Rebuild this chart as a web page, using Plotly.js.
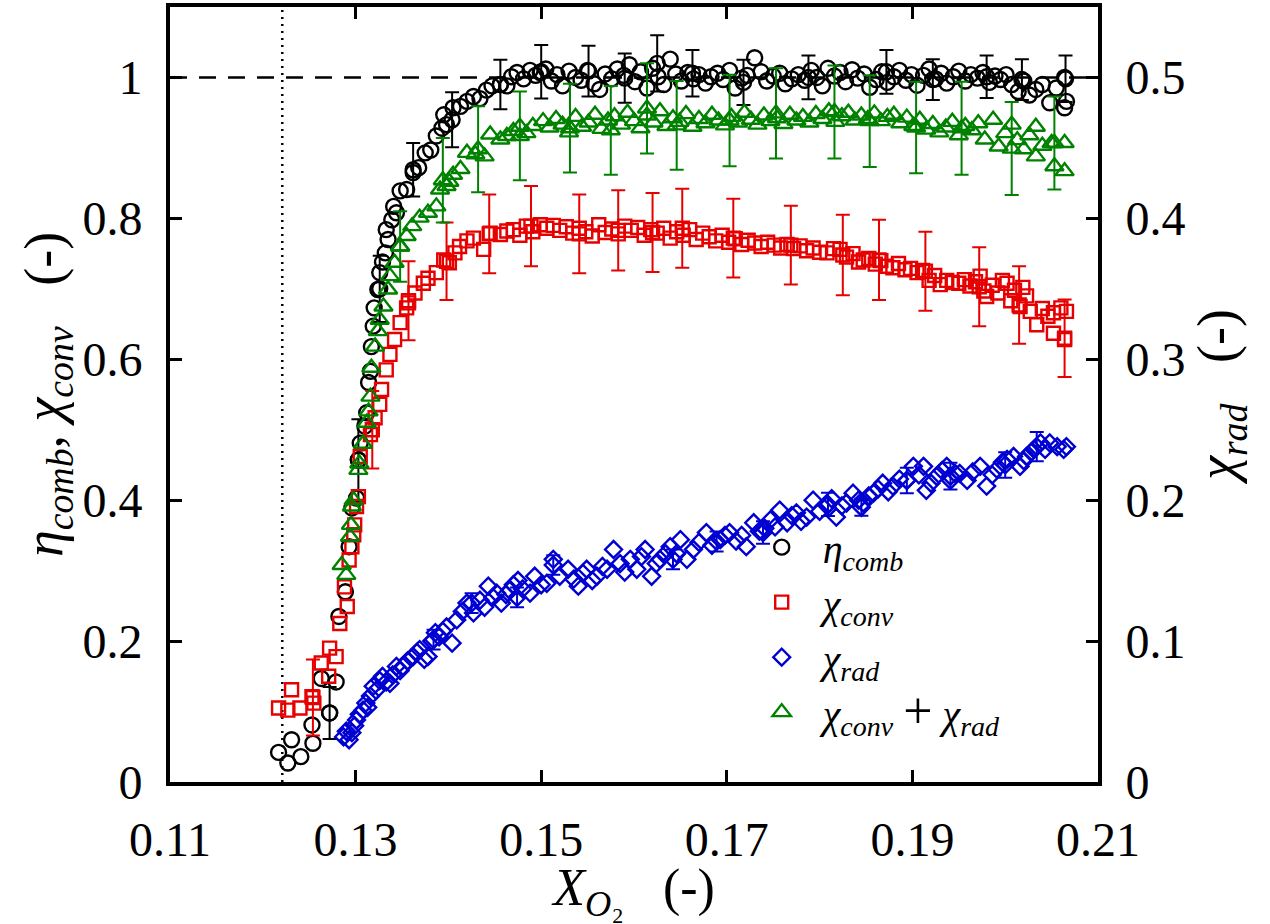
<!DOCTYPE html>
<html>
<head>
<meta charset="utf-8">
<script src="https://cdn.plot.ly/plotly-3.0.1.min.js"></script>
<style>html,body{margin:0;padding:0;background:#fff;}#chart{width:1270px;height:924px;}</style>
</head>
<body>
<div id="chart"></div>
<script>
// ---------- data ----------
// eta_comb (left axis)
const combX = [0.1217,0.1227,0.1231,0.1241,0.1254,0.1253,0.1263,0.1272,0.1279,0.1282,0.1289,0.1293,0.1296,0.1301,0.1303,0.1305,0.1310,0.1312,0.1314,0.1316,0.1317,0.1319,0.1320,0.1324,0.1326,0.1329,0.1332,0.1333,0.1335,0.1339,0.1341,0.1344,0.1348,0.1355,0.1362,0.1368,0.1375,0.1381,0.1387,0.1393,0.1395,0.1398,0.1405,0.1413,0.1420,0.1427,0.1434,0.1441,0.1447,0.1456,0.1463,0.1468,0.1474,0.1481,0.1488,0.1494,0.1499,
0.1505,0.1511,0.1517,0.1523,0.1530,0.1537,0.1543,0.1550,0.1557,0.1563,0.1569,0.1576,0.1582,0.1589,0.1595,0.1601,0.1607,0.1614,0.1620,0.1626,0.1632,0.1639,0.1645,0.1651,0.1658,0.1664,0.1670,0.1677,0.1683,0.1690,0.1696,0.1703,0.1709,0.1716,0.1722,0.1730,0.1737,0.1743,0.1750,0.1757,0.1763,0.1770,0.1777,0.1784,0.1791,0.1797,0.1803,0.1809,0.1816,0.1822,0.1828,0.1835,0.1841,0.1848,0.1854,0.1861,0.1867,0.1873,0.1880,0.1886,0.1893,0.1899,0.1905,0.1912,0.1918,0.1925,0.1931,0.1937,0.1944,0.1950,0.1957,0.1963,0.1970,0.1976,0.1983,0.1989,0.1995,0.2001,0.2007,0.2014,0.2020,0.2026,0.2033,0.2040,0.2048,0.2055,0.2064,0.2064,0.2066];
const combY = [0.042,0.027,0.060,0.036,0.055,0.081,0.147,0.098,0.142,0.235,0.270,0.334,0.389,0.403,0.457,0.481,0.505,0.524,0.567,0.583,0.618,0.647,0.673,0.699,0.723,0.738,0.751,0.784,0.770,0.798,0.817,0.808,0.839,0.841,0.865,0.872,0.893,0.897,0.917,0.928,0.947,0.933,0.957,0.959,0.966,0.973,0.970,0.982,0.988,0.990,0.988,1.001,1.007,0.998,1.010,1.003,1.007,
1.012,0.995,1.004,0.988,1.009,1.000,0.996,1.010,0.991,0.983,1.005,0.998,1.012,1.003,1.018,0.994,1.008,0.985,1.013,1.001,0.990,1.026,1.005,0.995,1.007,0.998,1.004,0.992,1.001,1.006,0.997,1.010,0.985,0.999,1.003,1.028,1.008,0.995,1.002,1.006,0.991,0.998,1.004,0.996,1.010,1.000,0.988,1.013,1.002,1.007,0.994,1.011,0.999,1.005,0.986,0.997,1.008,0.993,1.001,1.010,0.996,1.004,0.989,1.003,1.012,0.998,1.006,0.992,1.001,1.009,0.995,1.004,0.999,1.007,0.993,1.002,0.997,1.004,0.990,0.980,0.995,0.975,0.983,0.990,0.964,0.985,1.000,0.957,0.966];
const combErrX = [0.1272,0.1303,0.1326,0.1362,0.1404,0.1456,0.1500,0.1551,0.1590,0.1625,0.1663,0.1718,0.1788,0.1872,0.1922,0.1980,0.2018,0.2065];
const combErrY = [0.098,0.457,0.700,0.869,0.940,0.990,1.008,1.009,0.999,1.020,1.006,0.993,1.000,1.008,0.997,1.001,0.997,0.998];
const combErr  = [0.037,0.058,0.047,0.038,0.039,0.035,0.038,0.036,0.035,0.040,0.033,0.032,0.031,0.031,0.029,0.030,0.029,0.033];

// chi_conv (left axis)
const convX = [0.1217,0.1227,0.1231,0.1240,0.1253,0.1255,0.1263,0.1271,0.1272,0.1279,0.1283,0.1288,0.1291,0.1293,0.1296,0.1298,0.1299,0.1301,0.1303,0.1305,0.1316,0.1321,0.1326,0.1328,0.1333,0.1337,0.1342,0.1348,0.1355,0.1357,0.1364,0.1373,0.1378,0.1387,0.1395,0.1401,0.1407,0.1412,0.1420,0.1427,0.1438,0.1445,0.1456,0.1463,0.1470,0.1477,0.1484,0.1491,0.1499,
0.1506,0.1513,0.1520,0.1527,0.1534,0.1541,0.1548,0.1555,0.1562,0.1569,0.1576,0.1583,0.1590,0.1597,0.1604,0.1611,0.1618,0.1625,0.1632,0.1639,0.1646,0.1653,0.1660,0.1667,0.1674,0.1681,0.1688,0.1695,0.1702,0.1709,0.1716,0.1723,0.1730,0.1737,0.1744,0.1751,0.1758,0.1765,0.1772,0.1779,0.1786,0.1793,0.1800,0.1808,0.1815,0.1822,0.1829,0.1836,0.1842,0.1847,0.1853,0.1860,0.1866,0.1872,0.1879,0.1885,0.1892,0.1898,0.1905,0.1911,0.1918,0.1924,0.1930,0.1937,0.1943,0.1950,0.1956,0.1962,0.1968,0.1973,0.1977,0.1980,0.1986,0.1992,0.1997,0.2002,0.2006,0.2010,0.2016,0.2019,0.2023,0.2027,0.2034,0.2040,0.2046,0.2052,0.2052,0.2060,0.2064,0.2066];
const convY = [0.105,0.102,0.131,0.105,0.121,0.112,0.169,0.150,0.190,0.178,0.225,0.277,0.249,0.315,0.334,0.351,0.365,0.391,0.405,0.462,0.493,0.517,0.536,0.557,0.585,0.607,0.628,0.652,0.673,0.680,0.694,0.708,0.715,0.723,0.741,0.737,0.751,0.760,0.768,0.772,0.756,0.779,0.777,0.782,0.784,0.776,0.789,0.781,0.791,
0.786,0.790,0.783,0.788,0.779,0.786,0.781,0.775,0.791,0.780,0.785,0.778,0.789,0.783,0.787,0.776,0.784,0.779,0.786,0.772,0.781,0.776,0.784,0.770,0.779,0.774,0.768,0.776,0.766,0.771,0.763,0.769,0.765,0.760,0.766,0.762,0.758,0.763,0.757,0.761,0.754,0.758,0.752,0.751,0.757,0.756,0.745,0.750,0.738,0.741,0.743,0.735,0.740,0.732,0.730,0.736,0.727,0.729,0.723,0.726,0.712,0.719,0.706,0.712,0.709,0.708,0.713,0.704,0.710,0.718,0.697,0.689,0.705,0.694,0.712,0.708,0.683,0.698,0.675,0.702,0.690,0.668,0.649,0.672,0.661,0.637,0.666,0.673,0.628,0.668];
const convErrX = [0.1254,0.1318,0.1357,0.1398,0.1444,0.1489,0.1541,0.1583,0.1620,0.1652,0.1707,0.1769,0.1825,0.1864,0.1914,0.1972,0.2015,0.2064];
const convErrY = [0.120,0.500,0.683,0.739,0.778,0.789,0.778,0.783,0.780,0.786,0.772,0.762,0.748,0.741,0.725,0.703,0.677,0.630];
const convErr  = [0.054,0.055,0.056,0.055,0.056,0.057,0.056,0.057,0.056,0.056,0.056,0.056,0.057,0.057,0.056,0.056,0.055,0.055];

// chi_rad (right axis)
const radX = [0.1287,0.1290,0.1293,0.1296,0.1299,0.1301,0.1304,0.1308,0.1311,0.1313,0.1316,0.1319,0.1322,0.1326,0.1329,0.1333,0.1337,0.1340,0.1344,0.1348,0.1351,0.1356,0.1362,0.1366,0.1369,0.1374,0.1378,0.1382,0.1386,0.1390,0.1394,0.1398,0.1404,0.1409,0.1415,0.1420,0.1427,0.1434,0.1439,0.1443,0.1448,0.1452,0.1457,0.1462,0.1466,0.1470,0.1475,0.1480,0.1488,0.1493,0.1500,0.1506,0.1513,0.1520,0.1529,0.1535,0.1540,0.1545,0.1549,0.1555,0.1560,0.1566,0.1571,0.1578,0.1585,0.1590,0.1596,0.1603,0.1608,0.1612,0.1619,0.1624,0.1628,0.1634,0.1639,0.1646,0.1650,0.1657,0.1664,0.1670,0.1678,0.1684,0.1693,0.1698,0.1703,0.1710,0.1716,0.1721,0.1729,0.1735,0.1741,0.1747,0.1752,0.1757,0.1765,0.1770,0.1775,0.1780,0.1786,0.1793,0.1800,0.1808,0.1813,0.1818,0.1824,0.1829,0.1836,0.1842,0.1847,0.1853,0.1858,0.1863,0.1868,0.1874,0.1879,0.1886,0.1894,0.1901,0.1907,0.1912,0.1915,0.1920,0.1926,0.1932,0.1937,0.1941,0.1946,0.1951,0.1959,0.1965,0.1973,0.1980,0.1986,0.1991,0.1997,0.2002,0.2009,0.2016,0.2020,0.2023,0.2028,0.2031,0.2038,0.2043,0.2048,0.2056,0.2063,0.2066];
const radY = [0.032,0.036,0.030,0.035,0.040,0.044,0.048,0.051,0.056,0.053,0.061,0.068,0.065,0.072,0.075,0.071,0.070,0.076,0.082,0.079,0.082,0.086,0.089,0.092,0.094,0.087,0.089,0.100,0.106,0.103,0.107,0.110,0.0985,0.115,0.121,0.127,0.120,0.129,0.124,0.139,0.131,0.134,0.127,0.133,0.136,0.140,0.143,0.137,0.134,0.146,0.140,0.141,0.158,0.146,0.151,0.144,0.139,0.148,0.151,0.143,0.146,0.153,0.151,0.165,0.155,0.149,0.158,0.151,0.160,0.165,0.146,0.155,0.158,0.162,0.167,0.162,0.172,0.158,0.165,0.170,0.177,0.168,0.172,0.175,0.177,0.171,0.175,0.167,0.184,0.178,0.180,0.186,0.181,0.193,0.184,0.189,0.191,0.185,0.188,0.200,0.192,0.196,0.201,0.188,0.196,0.198,0.205,0.200,0.198,0.203,0.205,0.208,0.212,0.206,0.210,0.215,0.214,0.224,0.218,0.224,0.207,0.212,0.217,0.221,0.224,0.214,0.219,0.219,0.214,0.220,0.224,0.210,0.218,0.222,0.227,0.229,0.231,0.224,0.228,0.231,0.234,0.236,0.2406,0.236,0.2406,0.238,0.236,0.238];
const radErrX = [0.1384,0.1425,0.1474,0.1513,0.1642,0.1689,0.1739,0.1809,0.1845,0.1894,0.1941,0.2000,0.2034];
const radErrY = [0.101,0.127,0.131,0.154,0.158,0.1707,0.177,0.197,0.195,0.214,0.217,0.225,0.238];
const radErr  = [0.007,0.007,0.007,0.007,0.007,0.0071,0.008,0.0083,0.006,0.009,0.0095,0.009,0.0104];

// chi_conv + chi_rad (left axis)
const sumX = [0.1285,0.1290,0.1294,0.1295,0.1296,0.1298,0.1303,0.1304,0.1308,0.1312,0.1314,0.1316,0.1317,0.1321,0.1324,0.1326,0.1330,0.1335,0.1337,0.1342,0.1348,0.1355,0.1361,0.1369,0.1378,0.1387,0.1391,0.1398,0.1401,0.1405,0.1413,0.1420,0.1429,0.1439,0.1445,0.1456,0.1463,0.1470,0.1477,0.1484,0.1491,0.1502,
0.1509,0.1516,0.1523,0.1530,0.1537,0.1544,0.1551,0.1558,0.1565,0.1572,0.1579,0.1586,0.1593,0.1600,0.1607,0.1614,0.1621,0.1628,0.1635,0.1642,0.1649,0.1656,0.1663,0.1670,0.1677,0.1684,0.1691,0.1698,0.1705,0.1712,0.1719,0.1726,0.1733,0.1740,0.1747,0.1754,0.1761,0.1768,0.1775,0.1782,0.1789,0.1796,0.1803,0.1810,0.1817,0.1824,0.1831,0.1838,0.1845,0.1852,0.1859,0.1866,0.1873,0.1880,0.1887,0.1894,0.1901,0.1908,0.1915,0.1922,0.1929,0.1936,0.1943,0.1950,0.1957,0.1964,0.1971,0.1978,0.1987,0.1993,0.2000,0.2007,0.2013,0.2020,0.2026,0.2033,0.2033,0.2040,0.2050,0.2053,0.2064,0.2064];
const sumY = [0.308,0.294,0.348,0.365,0.391,0.400,0.443,0.452,0.480,0.510,0.526,0.547,0.588,0.618,0.640,0.656,0.675,0.699,0.718,0.737,0.760,0.775,0.789,0.801,0.808,0.817,0.841,0.846,0.852,0.862,0.870,0.893,0.891,0.888,0.919,0.912,0.917,0.924,0.930,0.921,0.931,0.938,
0.929,0.941,0.933,0.922,0.944,0.930,0.936,0.947,0.927,0.939,0.945,0.933,0.950,0.938,0.928,0.946,0.936,0.952,0.931,0.942,0.937,0.948,0.930,0.941,0.935,0.947,0.939,0.932,0.944,0.936,0.950,0.940,0.933,0.946,0.938,0.942,0.934,0.947,0.939,0.944,0.936,0.948,0.941,0.952,0.937,0.945,0.950,0.939,0.946,0.941,0.949,0.938,0.944,0.947,0.935,0.943,0.931,0.940,0.926,0.934,0.922,0.929,0.937,0.918,0.931,0.925,0.935,0.912,0.940,0.902,0.921,0.933,0.911,0.898,0.918,0.888,0.930,0.903,0.907,0.874,0.907,0.867];
const sumErrX = [0.1348,0.1394,0.1432,0.1477,0.1531,0.1575,0.1614,0.1646,0.1703,0.1753,0.1816,0.1854,0.1904,0.1953,0.2007,0.2053];
const sumErrY = [0.760,0.854,0.898,0.917,0.928,0.925,0.956,0.932,0.939,0.949,0.951,0.938,0.929,0.928,0.899,0.907];
const sumErr  = [0.050,0.060,0.061,0.063,0.063,0.063,0.064,0.063,0.065,0.064,0.066,0.065,0.065,0.066,0.066,0.066];

const xTicks = [0.11,0.13,0.15,0.17,0.19,0.21];
const xTickText = ['0.11','0.13','0.15','0.17','0.19','0.21'];
const stoichX = 0.1221;   // dotted vertical reference line
const unityY = 1;         // dashed horizontal reference line

// ---------- styles ----------
const FONT = 'Liberation Serif, Times New Roman, serif';
const RED = 'rgb(230,0,0)', GREEN = 'rgb(0,130,0)', BLUE = 'rgb(0,0,210)', BLACK = '#000';
const NB = '\u00A0';

function mainTrace(x, y, name, sym, color, size, yaxis) {
  return {x, y, name, type:'scatter', mode:'markers', yaxis: yaxis || 'y',
    marker:{symbol:sym, size:size, color:color, line:{width:2.4, color:color}}, showlegend:true};
}
function errTrace(x, y, e, sym, color, size, yaxis) {
  return {x, y, type:'scatter', mode:'markers', yaxis: yaxis || 'y', showlegend:false, hoverinfo:'skip',
    marker:{symbol:sym, size:size, color:color, line:{width:2.4, color:color}},
    error_y:{type:'data', array:e, visible:true, color:color, thickness:2, width:7}};
}

const traces = [
  errTrace(combErrX, combErrY, combErr, 'circle-open', BLACK, 15),
  mainTrace(combX, combY, '<i>η</i><sub><i>comb</i></sub>', 'circle-open', BLACK, 15),
  errTrace(convErrX, convErrY, convErr, 'square-open', RED, 13),
  mainTrace(convX, convY, '<i>χ</i><sub><i>conv</i></sub>', 'square-open', RED, 13),
  errTrace(radErrX, radErrY, radErr, 'diamond-open', BLUE, 13, 'y2'),
  mainTrace(radX, radY, '<i>χ</i><sub><i>rad</i></sub>', 'diamond-open', BLUE, 13, 'y2'),
  errTrace(sumErrX, sumErrY, sumErr, 'triangle-up-open', GREEN, 16),
  mainTrace(sumX, sumY, '<i>χ</i><sub><i>conv</i></sub>'+NB+'<span style="font-size:52px">+</span>'+NB+'<i>χ</i><sub><i>rad</i></sub>', 'triangle-up-open', GREEN, 16)
];

const axisCommon = {showgrid:false, zeroline:false, showline:true, linewidth:4, linecolor:BLACK,
  ticks:'inside', ticklen:12, tickwidth:3, tickcolor:BLACK,
  tickfont:{family:FONT, size:48, color:BLACK}};

const layout = {
  width:1270, height:924,
  margin:{l:170, r:172, t:7, b:142},
  paper_bgcolor:'#fff', plot_bgcolor:'#fff',
  font:{family:FONT, color:BLACK},
  showlegend:true,
  legend:{x:0.615, y:0.345, xanchor:'left', yanchor:'top', bgcolor:'rgba(0,0,0,0)', borderwidth:0,
    font:{family:FONT, size:40, color:BLACK}, itemwidth:72, tracegroupgap:0},
  xaxis:Object.assign({}, axisCommon, {range:[0.11,0.21], tickvals:xTicks, ticktext:xTickText,
    mirror:'ticks', ticklabelstandoff:12,
    title:{text:'<i>X</i><sub><i>O</i>₂</sub>'+NB+NB+NB+'(-)', font:{family:FONT, size:52}, standoff:22}}),
  yaxis:Object.assign({}, axisCommon, {range:[0,1.1], tick0:0, dtick:0.2, mirror:true, ticklabelstandoff:14,
    title:{text:'<i>η</i><sub><i>comb</i></sub>, <i>χ</i><sub><i>conv</i></sub>'+NB+NB+NB+'(-)', font:{family:FONT, size:54}, standoff:4}}),
  yaxis2:Object.assign({}, axisCommon, {range:[0,0.55], tick0:0, dtick:0.1, overlaying:'y', side:'right', ticklabelstandoff:14,
    title:{text:'<i>χ</i><sub><i>rad</i></sub>'+NB+NB+NB+'(-)', font:{family:FONT, size:54}, standoff:14}}),
  shapes:[
    {type:'line', xref:'x', yref:'paper', x0:stoichX, x1:stoichX, y0:0, y1:1, line:{color:BLACK, width:2.5, dash:'2px,5px'}, layer:'below'},
    {type:'line', xref:'paper', yref:'y', x0:0, x1:1, y0:unityY, y1:unityY, line:{color:BLACK, width:2.5, dash:'17px,12px'}, layer:'below'}
  ]
};

Plotly.newPlot('chart', traces, layout, {displayModeBar:false, staticPlot:true});
</script>
</body>
</html>
